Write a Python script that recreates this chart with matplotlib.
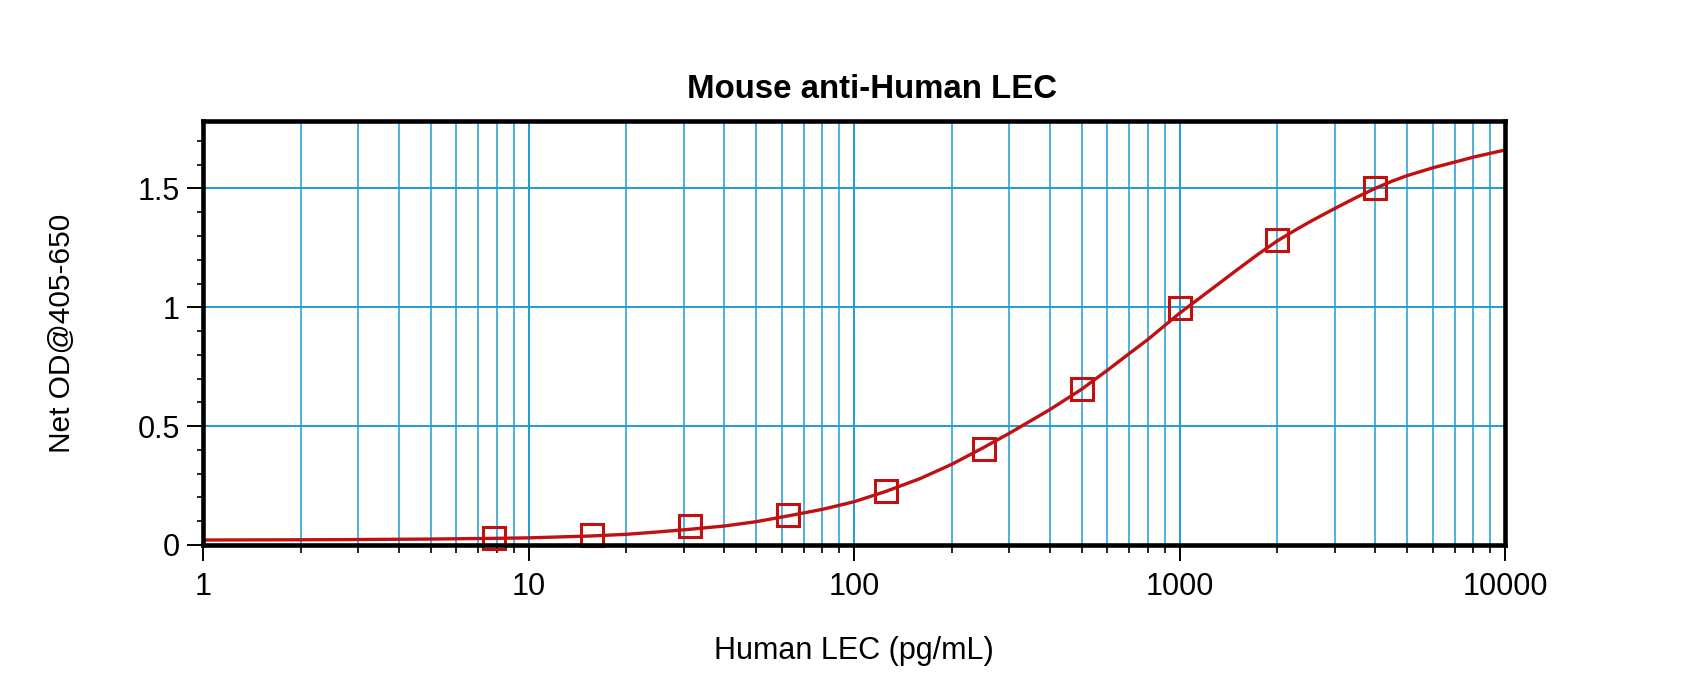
import matplotlib
matplotlib.use("Agg")
from matplotlib import pyplot as plt
from matplotlib.ticker import LogLocator, MultipleLocator, FixedLocator, NullFormatter
import numpy as np

# standards (pg/mL) and net OD
conc = [7.8125, 15.625, 31.25, 62.5, 125, 250, 500, 1000, 2000, 4000]
od = [0.029, 0.043, 0.078, 0.126, 0.229, 0.405, 0.655, 0.998, 1.283, 1.50]

# fitted curve
curve_x = [1, 2, 3, 5, 7.8, 10, 15.6, 20, 25, 31.25, 40, 50, 62.5, 80, 100, 125,
           160, 200, 250, 300, 400, 500, 600, 700, 800, 1000, 1250, 1500, 1750,
           2000, 2250, 2500, 3000, 3500, 4000, 4500, 5000, 6000, 7000, 8000, 10000]
curve_y = [0.021, 0.022, 0.023, 0.025, 0.028, 0.030, 0.038, 0.045, 0.055, 0.066,
           0.080, 0.098, 0.122, 0.150, 0.182, 0.225, 0.280, 0.340, 0.410, 0.470,
           0.570, 0.655, 0.735, 0.805, 0.865, 0.975, 1.075, 1.157, 1.225, 1.280,
           1.322, 1.358, 1.416, 1.463, 1.501, 1.531, 1.554, 1.587, 1.611, 1.632, 1.662]

x_ticks = [1, 10, 100, 1000, 10000]
x_labels = ["1", "10", "100", "1000", "10000"]
y_ticks = [0, 0.5, 1, 1.5]
y_labels = ["0", "0.5", "1", "1.5"]

title = "Mouse anti-Human LEC"
xlabel = "Human LEC (pg/mL)"
ylabel = "Net OD@405-650"

plt.rcParams["font.family"] = ["Liberation Sans", "DejaVu Sans"]

red = "#C01010"
blue = "#1E9BD7"

fig = plt.figure(figsize=(17, 6.86), dpi=100)
ax = fig.add_axes([203 / 1700, 141 / 686, 1302 / 1700, 424 / 686])

ax.plot(curve_x, curve_y, color=red, lw=2.4, zorder=3)
ax.plot(conc, od, linestyle="none", marker="s", markersize=15.5,
        markerfacecolor="none", markeredgecolor=red, markeredgewidth=2.2,
        zorder=4, clip_on=False)

ax.set_xscale("log")
ax.set_xlim(1, 10000)
ax.set_ylim(0, 1.784)

ax.xaxis.set_major_locator(FixedLocator(x_ticks))
ax.set_xticklabels(x_labels)
ax.xaxis.set_minor_locator(LogLocator(base=10, subs=np.arange(2, 10)))
ax.xaxis.set_minor_formatter(NullFormatter())
ax.yaxis.set_major_locator(FixedLocator(y_ticks))
ax.set_yticklabels(y_labels)
ax.yaxis.set_minor_locator(MultipleLocator(0.1))

ax.set_axisbelow(True)
ax.grid(True, which="major", axis="both", color=blue, lw=1.4)
ax.grid(True, which="minor", axis="x", color=blue, lw=1.1)

ax.tick_params(axis="x", which="major", direction="out", length=11.5, width=1.4,
               pad=8, labelsize=22, top=False)
ax.tick_params(axis="x", which="minor", direction="out", length=5.8, width=1.2, top=False)
ax.tick_params(axis="y", which="major", direction="out", length=11.5, width=1.4,
               pad=5, labelsize=22, right=False)
ax.tick_params(axis="y", which="minor", direction="out", length=4.3, width=1.2, right=False)

for s in ax.spines.values():
    s.set_linewidth(3.3)
    s.set_zorder(5)

ax.set_title(title, fontsize=23.8, fontweight="bold", x=0.514, y=1.055, va="center")
ax.set_xlabel(xlabel, fontsize=22, va="center")
ax.xaxis.set_label_coords(0.5, -0.25)
ax.set_ylabel(ylabel, fontsize=21.5, va="center")
ax.yaxis.set_label_coords(-0.108, 0.5)

fig.savefig("out.png", dpi=100, facecolor="white")
